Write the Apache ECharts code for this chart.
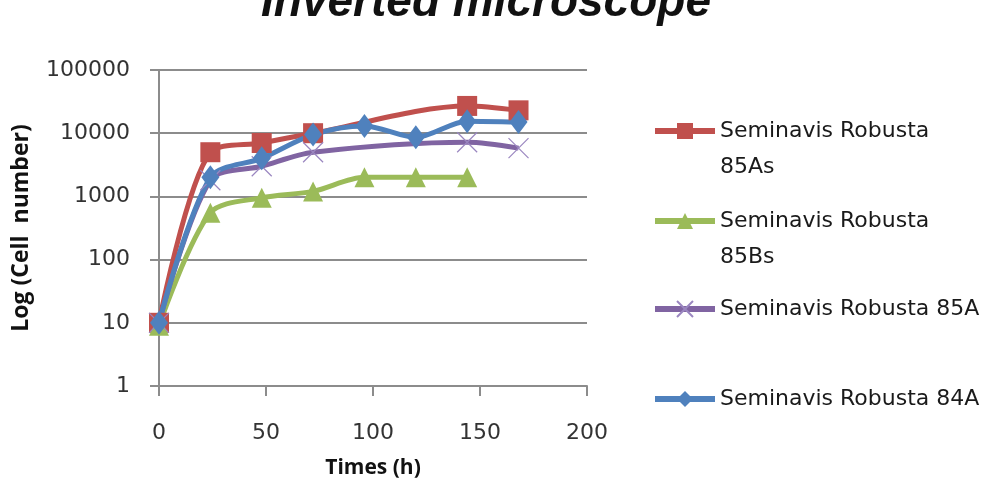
<!DOCTYPE html>
<html>
<head>
<meta charset="utf-8">
<script src="https://cdn.jsdelivr.net/npm/echarts@6/dist/echarts.min.js"></script>
<style>
  html, body { margin: 0; padding: 0; background: #fff; }
  #chart { width: 996px; height: 492px; }
</style>
</head>
<body>
<div id="chart"></div>
<script>
// sampling times (h)
var times = [0, 24, 48, 72, 96, 120, 144, 168];

// cell numbers (null = no point at that time)
var s85As = [10, 5000, 7000, 10000, null, null, 27000, 23000];
var s85Bs = [9, 550, 950, 1200, 2000, 2000, 2000, null];
var s85A = [10, 1800, 3000, 5000, null, null, 7200, 5800];
var s84A = [10, 2000, 4000, 9500, 13000, 8600, 15500, 15000];

var names = ['Seminavis Robusta 85As', 'Seminavis Robusta 85Bs',
             'Seminavis Robusta 85A', 'Seminavis Robusta 84A'];
var colors = ['#c0504d', '#9bbb59', '#8064a2', '#4f81bd'];

function pairs(vals) {
  return vals.map(function (v, i) { return [times[i], v]; });
}

var font = '"Open Sans", sans-serif';
var tickFont = '"DejaVu Sans", sans-serif';
var crossPath = 'path://M0,0L10,10M10,0L0,10';

// one legend per entry so the wrapped names line up like the original
function mkLegend(name, top, twoLine) {
  return {
    data: [name],
    left: 652,
    top: top,
    padding: 0,
    itemWidth: 60,
    itemHeight: 20,
    lineStyle: { width: 6 },
    formatter: function (n) {
      return twoLine ? '\n' + n.replace(/ (\w+)$/, '\n$1') : n;
    },
    textStyle: {
      fontFamily: tickFont,
      fontSize: 22,
      color: '#1a1a1a',
      lineHeight: 36
    }
  };
}

var chart = echarts.init(document.getElementById('chart'));
chart.setOption({
  animation: false,
  title: {
    text: 'Inverted microscope',
    left: 486,
    textAlign: 'center',
    top: -20,
    padding: 0,
    textStyle: {
      fontFamily: '"Liberation Sans", sans-serif',
      fontStyle: 'italic',
      fontWeight: 'bold',
      fontSize: 46,
      color: '#111'
    }
  },
  legend: [
    mkLegend(names[0], 77, true),
    mkLegend(names[1], 167, true),
    mkLegend(names[2], 291, false),
    mkLegend(names[3], 381, false)
  ],
  grid: { left: 159, right: 409, top: 70, bottom: 106 },
  xAxis: {
    type: 'value',
    min: 0,
    max: 200,
    interval: 50,
    name: 'Times (h)',
    nameLocation: 'middle',
    nameGap: 72,
    nameTextStyle: { fontFamily: font, fontSize: 21, fontWeight: 'bold', color: '#111' },
    axisLine: { lineStyle: { color: '#8c8c8c', width: 2 } },
    axisTick: { show: true, length: 10, lineStyle: { color: '#8c8c8c', width: 2 } },
    axisLabel: { fontFamily: tickFont, fontSize: 22, color: '#333', margin: 36 },
    splitLine: { show: false }
  },
  yAxis: {
    type: 'log',
    logBase: 10,
    min: 1,
    max: 100000,
    name: 'Log (Cell  number)',
    nameLocation: 'middle',
    nameGap: 126,
    nameTextStyle: { fontFamily: font, fontSize: 23, fontWeight: 'bold', color: '#111' },
    axisLine: { show: true, lineStyle: { color: '#8c8c8c', width: 2 } },
    axisTick: { show: true, length: 9, lineStyle: { color: '#8c8c8c', width: 2 } },
    axisLabel: {
      fontFamily: tickFont, fontSize: 22, color: '#333', margin: 29,
      formatter: function (v) { return String(v); }
    },
    splitLine: { lineStyle: { color: '#8c8c8c', width: 2 } }
  },
  series: [
    {
      name: names[0], type: 'line', smooth: 0.3, connectNulls: true, data: pairs(s85As),
      symbol: 'rect', symbolSize: 20,
      itemStyle: { color: colors[0] }, lineStyle: { width: 5, color: colors[0] }
    },
    {
      name: names[1], type: 'line', smooth: 0.3, connectNulls: true, data: pairs(s85Bs),
      symbol: 'triangle', symbolSize: 20,
      itemStyle: { color: colors[1] }, lineStyle: { width: 5, color: colors[1] }
    },
    {
      name: names[2], type: 'line', smooth: 0.3, connectNulls: true, data: pairs(s85A),
      symbol: crossPath, symbolSize: 20,
      itemStyle: { color: 'rgba(0,0,0,0)', borderColor: '#9a86c0', borderWidth: 1.2 },
      lineStyle: { width: 5, color: colors[2] }
    },
    {
      name: names[3], type: 'line', smooth: 0.3, connectNulls: true, data: pairs(s84A),
      symbol: 'diamond', symbolSize: [18, 24],
      itemStyle: { color: colors[3] }, lineStyle: { width: 5, color: colors[3] }
    }
  ]
});
</script>
</body>
</html>
